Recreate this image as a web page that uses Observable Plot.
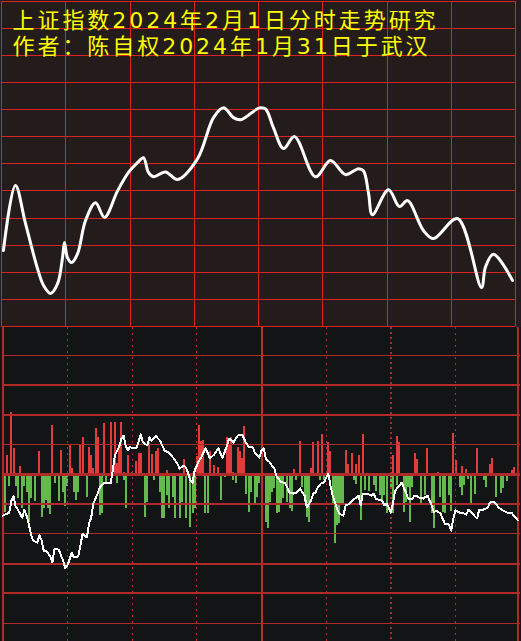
<!DOCTYPE html>
<html><head><meta charset="utf-8">
<script src="https://cdn.jsdelivr.net/npm/d3@7"></script>
<script src="https://cdn.jsdelivr.net/npm/@observablehq/plot@0.6"></script>
<style>
html,body{margin:0;padding:0;background:#131416;}
#chart svg{display:block;}
</style></head><body><div id="chart"></div>
<script>
// Title
const titleLines = ["上证指数2024年2月1日分时走势研究", "作者：陈自权2024年1月31日于武汉"];

// Top panel: smoothed price curve (minute of trading day, index level)
const priceMinutes = [0.9, 6.5, 11.2, 16.8, 19.6, 22.9, 26.2, 28.5, 29.4, 30.8, 32.7, 35.5, 39.2, 43.9, 48.1, 54.2, 59.3, 63.5, 66.3, 68.6, 71.0, 76.6, 82.2, 91.5, 99.0, 103.7, 108.3, 111.6, 120.5, 123.3, 127.0, 131.7, 136.8, 146.6, 153.6, 160.6, 166.7, 169.0, 171.4, 173.2, 180.7, 185.8, 189.6, 197.0, 201.7, 212.9, 224.1, 226.0, 229.7, 238.6];
const priceValues = [2764.0, 2776.0, 2769.0, 2760.7, 2757.6, 2756.1, 2757.9, 2762.7, 2765.5, 2762.7, 2761.8, 2763.4, 2769.5, 2772.8, 2770.1, 2775.0, 2778.4, 2780.2, 2781.1, 2778.4, 2777.6, 2778.5, 2777.1, 2780.9, 2788.5, 2790.3, 2788.5, 2788.1, 2790.3, 2790.1, 2786.6, 2782.8, 2785.0, 2777.6, 2780.6, 2778.0, 2779.1, 2778.7, 2774.5, 2770.6, 2775.2, 2772.1, 2773.2, 2767.7, 2766.2, 2769.9, 2757.2, 2761.0, 2763.3, 2758.5];

// Bottom panel: red bars (up), green bars (down), white indicator line
const redMinutes = [2, 4, 5, 8, 17, 23, 27, 31, 32, 36, 37, 40, 41, 42, 43, 44, 47, 50, 52, 53, 54, 55, 56, 58, 60, 62, 63, 64, 68, 69, 71, 72, 76, 84, 86, 90, 91, 92, 93, 96, 98, 100, 104, 105, 106, 107, 109, 110, 111, 112, 120, 135, 138, 143, 144, 146, 148, 151, 152, 159, 160, 162, 164, 165, 167, 181, 183, 184, 191, 192, 197, 202, 209, 210, 213, 215, 220, 226, 227, 236, 237];
const redValues = [6.4, 20.9, 8.8, 2.7, 7.7, 16.5, 8.1, 10.1, 2.0, 10.1, 12.5, 9.1, 6.4, 2.0, 15.5, 12.5, 17.2, 17.5, 17.5, 3.7, 9.8, 17.5, 0.7, 6.4, 0.7, 4.4, 7.1, 7.1, 10.8, 6.7, 7.7, 8.8, 1.3, 5.1, 0.7, 6.1, 16.5, 11.1, 11.4, 7.7, 3.0, 2.4, 12.5, 10.1, 12.5, 0.7, 9.1, 7.7, 5.4, 16.2, 5.4, 1.7, 11.1, 2.0, 10.8, 11.1, 13.5, 10.8, 7.7, 8.1, 3.4, 7.1, 3.4, 6.4, 13.5, 6.4, 12.8, 10.8, 7.1, 5.1, 8.8, 0.7, 13.8, 4.7, 2.7, 1.7, 8.8, 3.4, 5.4, 1.3, 2.4];

const greenMinutes = [1, 3, 6, 7, 9, 10, 11, 12, 13, 15, 18, 19, 20, 21, 22, 24, 26, 28, 29, 30, 33, 34, 35, 39, 45, 46, 48, 53, 56, 57, 66, 67, 70, 73, 74, 75, 76, 77, 79, 80, 82, 83, 85, 87, 88, 89, 94, 95, 101, 103, 107, 108, 113, 114, 115, 117, 118, 119, 122, 123, 124, 125, 126, 127, 128, 129, 130, 132, 133, 134, 136, 139, 140, 141, 142, 147, 149, 153, 154, 155, 156, 157, 158, 163, 164, 166, 168, 170, 172, 173, 175, 176, 177, 178, 180, 181, 183, 186, 187, 188, 189, 190, 194, 196, 199, 200, 203, 204, 205, 207, 208, 212, 213, 214, 216, 217, 219, 223, 224, 229, 231, 232, 234, 239];
const greenValues = [-12.8, -4.0, -4.0, -8.1, -11.4, -4.0, -6.1, -16.2, -8.1, -9.1, -14.5, -11.4, -8.8, -11.4, -13.5, -3.0, -9.1, -6.1, -10.8, -4.0, -6.1, -8.8, -6.1, -7.7, -13.8, -13.1, -2.7, -3.0, -2.0, -11.4, -14.5, -9.4, -2.0, -6.1, -14.8, -14.8, -7.1, -11.4, -7.7, -14.8, -14.8, -9.4, -14.8, -17.8, -13.1, -11.4, -13.1, -13.1, -8.8, -1.0, -2.0, -3.0, -6.7, -12.8, -6.1, -10.4, -7.7, -3.0, -16.2, -18.2, -9.4, -6.1, -4.7, -13.1, -12.8, -10.4, -8.1, -9.4, -11.4, -12.5, -2.0, -4.4, -9.4, -14.5, -16.2, -2.0, -2.0, -10.4, -23.2, -17.2, -16.5, -9.8, -9.8, -2.0, -3.4, -15.5, -5.4, -5.7, -3.7, -5.7, -7.1, -9.4, -7.1, -13.1, -4.4, -13.1, -3.7, -12.8, -9.4, -4.4, -16.2, -4.4, -10.4, -7.1, -13.1, -18.2, -7.7, -12.8, -13.1, -7.1, -12.5, -4.4, -7.1, -3.7, -1.7, -10.4, -6.7, -2.0, -4.4, -7.7, -6.4, -4.7, -2.4, -11.4];

const lineMinutes = [0, 1, 3, 4, 5, 6, 7, 9, 10, 11, 12, 13, 14, 16, 17, 18, 19, 20, 22, 23, 24, 26, 27, 28, 29, 30, 32, 33, 35, 36, 37, 39, 40, 41, 42, 44, 45, 47, 50, 51, 52, 54, 55, 56, 57, 58, 59, 60, 62, 64, 65, 67, 68, 69, 71, 72, 73, 75, 77, 79, 81, 82, 84, 85, 86, 87, 88, 89, 91, 92, 94, 95, 96, 98, 100, 101, 102, 104, 105, 107, 108, 109, 111, 113, 114, 116, 117, 119, 120, 121, 122, 124, 125, 126, 127, 129, 131, 132, 133, 135, 136, 138, 139, 140, 141, 143, 144, 145, 146, 148, 149, 150, 151, 152, 153, 155, 156, 158, 159, 161, 162, 164, 165, 166, 167, 169, 171, 172, 173, 174, 176, 177, 178, 179, 180, 181, 182, 184, 185, 186, 187, 188, 190, 191, 192, 193, 195, 197, 198, 199, 200, 201, 203, 204, 205, 207, 208, 209, 210, 212, 213, 215, 216, 217, 219, 220, 221, 222, 223, 225, 226, 228, 229, 230, 232, 234, 236, 237, 239];
const lineValues = [-13.8, -13.5, -12.8, -8.8, -7.4, -10.8, -11.8, -14.5, -11.8, -13.8, -16.5, -19.9, -22.2, -22.9, -20.5, -22.2, -25.6, -25.6, -27.6, -29.6, -24.9, -25.3, -27.3, -29.0, -31.6, -30.6, -26.3, -27.9, -27.6, -23.9, -19.9, -21.2, -16.5, -14.5, -9.8, -6.4, -4.4, -2.7, -3.0, 1.3, 6.4, 9.4, 12.1, 13.1, 9.8, 8.1, 9.4, 8.8, 8.8, 13.5, 10.8, 9.8, 12.5, 11.4, 13.1, 12.1, 11.4, 8.1, 7.4, 5.7, 3.7, 2.0, 3.0, 2.4, 0.3, -2.0, -2.7, 1.3, 4.7, 5.7, 8.8, 7.4, 5.4, 6.7, 8.8, 7.1, 5.7, 9.8, 12.1, 10.8, 12.1, 13.1, 13.5, 10.4, 9.4, 9.1, 7.1, 5.7, 8.1, 8.8, 5.4, 4.0, 2.7, 2.0, -0.7, -2.4, -3.0, -4.4, -6.1, -6.4, -6.1, -4.7, -6.1, -7.1, -11.1, -8.8, -6.4, -6.1, -4.4, -2.7, -2.7, -1.0, 0.3, -3.7, -7.1, -11.4, -13.1, -13.8, -10.4, -9.8, -8.8, -7.7, -7.1, -10.4, -6.4, -6.4, -7.1, -6.4, -8.1, -8.4, -8.8, -10.4, -9.8, -11.1, -12.8, -9.4, -5.4, -3.7, -2.7, -4.4, -6.1, -8.1, -8.1, -7.1, -7.1, -7.7, -8.1, -7.1, -8.8, -10.4, -12.8, -12.1, -13.1, -14.8, -16.5, -16.8, -18.9, -14.8, -12.1, -12.8, -12.8, -13.5, -11.8, -12.5, -14.1, -14.8, -11.8, -12.1, -11.8, -11.1, -9.4, -9.1, -10.1, -11.1, -12.1, -12.8, -12.8, -13.8, -15.5];

// Grid definitions
const timeTicks = [0, 30, 60, 90, 120, 150, 180, 210, 240];
const priceTicks = [2750, 2755, 2760, 2765, 2770, 2775, 2780, 2785, 2790, 2795, 2800, 2805, 2810];
const dottedTimes = [30, 60, 90, 150, 210];
const thinLevels = [40, 10, -20, -50];
const thickLevels = [30, 20, -10, -30, -40];

const priceData = priceMinutes.map((m, i) => ({minute: m, price: priceValues[i]}));
const redData = redMinutes.map((m, i) => ({minute: m, value: redValues[i]}));
const greenData = greenMinutes.map((m, i) => ({minute: m, value: greenValues[i]}));
const lineData = lineMinutes.map((m, i) => ({minute: m, value: lineValues[i]}));

const gridRed = "#dc2222";
const darkRed = "#b02a2a";
const titleFont = "'DejaVu Sans', 'Noto Sans CJK SC', sans-serif";

const topPlot = Plot.plot({
  width: 521, height: 327,
  marginLeft: 1, marginRight: 6, marginTop: 0.5, marginBottom: 1,
  x: {domain: [0, 240], axis: null},
  y: {domain: [2750, 2810], axis: null},
  style: {background: "#231c1a"},
  marks: [
    Plot.ruleX(timeTicks, {stroke: gridRed, strokeWidth: 1, shapeRendering: "crispEdges"}),
    Plot.ruleY(priceTicks.slice(1), {stroke: gridRed, strokeWidth: 1, shapeRendering: "crispEdges"}),
    Plot.ruleY([2750], {stroke: "#e02020", strokeWidth: 2, shapeRendering: "crispEdges"}),
    Plot.line(priceData, {x: "minute", y: "price", curve: "catmull-rom", stroke: "white", strokeWidth: 3}),
    Plot.text([titleLines[0]], {text: d => d, frameAnchor: "top-left", dx: 11, dy: 20, lineAnchor: "middle", textAnchor: "start", fill: "#ffff00", fontSize: 22, fontFamily: titleFont}),
    Plot.text([titleLines[1]], {text: d => d, frameAnchor: "top-left", dx: 11, dy: 46, lineAnchor: "middle", textAnchor: "start", fill: "#ffff00", fontSize: 22, fontFamily: titleFont})
  ]
});
d3.select(topPlot).selectAll("text").attr("letter-spacing", "2.95");

const bottomPlot = Plot.plot({
  width: 521, height: 314,
  marginLeft: 2.3, marginRight: 1.3, marginTop: 0, marginBottom: 0,
  x: {domain: [0, 240], axis: null},
  y: {domain: [-56.2, 49.5], axis: null},
  style: {background: "#131416"},
  marks: [
    Plot.ruleX(redData, {x: "minute", y1: 0, y2: "value", stroke: "#e23b3b", strokeWidth: 2, shapeRendering: "crispEdges"}),
    Plot.ruleX(greenData, {x: "minute", y1: 0, y2: "value", stroke: "#63b84e", strokeWidth: 2, shapeRendering: "crispEdges"}),
    Plot.ruleX(dottedTimes, {stroke: darkRed, strokeWidth: 1, strokeDasharray: "2,4", shapeRendering: "crispEdges"}),
    Plot.ruleX([180], {stroke: darkRed, strokeWidth: 2, strokeDasharray: "2,3", shapeRendering: "crispEdges"}),
    Plot.ruleX([120], {stroke: "#b83030", strokeWidth: 2, shapeRendering: "crispEdges"}),
    Plot.ruleX([0], {stroke: darkRed, strokeWidth: 2, shapeRendering: "crispEdges"}),
    Plot.ruleX([240], {stroke: darkRed, strokeWidth: 2, dx: -2, shapeRendering: "crispEdges"}),
    Plot.ruleY(thinLevels, {stroke: darkRed, strokeWidth: 1, shapeRendering: "crispEdges"}),
    Plot.ruleY(thickLevels, {stroke: darkRed, strokeWidth: 2, shapeRendering: "crispEdges"}),
    Plot.ruleY([0], {stroke: darkRed, strokeWidth: 3, shapeRendering: "crispEdges"}),
    Plot.line(lineData, {x: "minute", y: "value", stroke: "white", strokeWidth: 2, shapeRendering: "crispEdges"})
  ]
});

const chart = document.getElementById("chart");
chart.appendChild(topPlot);
chart.appendChild(bottomPlot);
</script>
</body></html>
